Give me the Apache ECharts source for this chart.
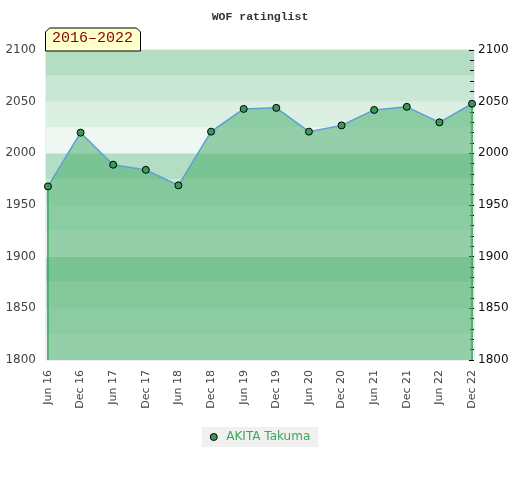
<!DOCTYPE html>
<html>
<head>
<meta charset="utf-8">
<script src="https://cdn.jsdelivr.net/npm/echarts@6/dist/echarts.min.js"></script>
<style>
html,body{margin:0;padding:0;background:#fff;}
#chart{width:520px;height:480px;}
</style>
</head>
<body>
<div id="chart"></div>
<script>
var titleText = 'WOF ratinglist';
var periodLabel = '2016\u20132022';
var seriesName = 'AKITA Takuma';
var categories = ['Jun 16','Dec 16','Jun 17','Dec 17','Jun 18','Dec 18','Jun 19','Dec 19','Jun 20','Dec 20','Jun 21','Dec 21','Jun 22','Dec 22'];
var ratings = [1968, 2020, 1989, 1984, 1969, 2021, 2043, 2044, 2021, 2027, 2042, 2045, 2030, 2048];
var yMin = 1800, yMax = 2100;
var bandColors = ['#eef7f2', '#dcefe3', '#c9e7d4', '#b3dec3'];

var chart = echarts.init(document.getElementById('chart'), null, {renderer: 'canvas'});
var idx = categories.map(function (c, i) { return i; });
var n = categories.length;
var mainData = ratings.map(function (v, i) { return [i, v]; });
var leftEdge = [[0, yMin], [0, ratings[0]]];
var rightEdge = [[n - 1, yMin], [n - 1, ratings[n - 1]]];

var option = {
  animation: false,
  backgroundColor: '#ffffff',
  title: {
    text: titleText,
    left: 'center',
    top: 6,
    textStyle: {fontFamily: 'Liberation Mono', fontSize: 11.5, fontWeight: 'bold', color: '#333'}
  },
  grid: {left: 46, right: 46, top: 50, bottom: 120, show: true, borderColor: '#dddddd', borderWidth: 1, backgroundColor: 'transparent'},
  xAxis: {
    type: 'value',
    min: -0.06,
    max: n - 1 + 0.06,
    splitLine: {show: false},
    axisLine: {show: false},
    axisTick: {show: false},
    axisLabel: {
      customValues: idx,
      rotate: 90,
      color: '#444',
      fontFamily: 'DejaVu Sans',
      fontSize: 11,
      margin: 10,
      formatter: function (v) { return categories[Math.round(v)] || ''; }
    }
  },
  yAxis: [
    {
      type: 'value', position: 'left', min: yMin, max: yMax, interval: 25,
      axisLine: {show: false}, axisTick: {show: false}, splitLine: {show: false},
      splitArea: {show: true, areaStyle: {color: bandColors}},
      axisLabel: {color: '#444', fontFamily: 'DejaVu Sans', fontSize: 12, margin: 10,
        formatter: function (v) { return v % 50 === 0 ? String(v) : ''; }}
    },
    {
      type: 'value', position: 'right', min: yMin, max: yMax, interval: 50,
      axisLine: {show: false}, splitLine: {show: false},
      axisTick: {show: true, inside: true, length: 5, lineStyle: {color: '#000', width: 1}},
      minorTick: {show: true, splitNumber: 5, length: 4, lineStyle: {color: '#000', width: 1}},
      axisLabel: {color: '#111', fontFamily: 'DejaVu Sans', fontSize: 12, margin: 4,
        formatter: function (v) { return String(v); }}
    }
  ],
  legend: {
    data: [{name: seriesName, icon: 'circle'}],
    left: 'center',
    top: 427,
    backgroundColor: '#f0f0f0',
    padding: [4, 8, 4, 8],
    itemWidth: 7,
    itemHeight: 7,
    itemGap: 6,
    itemStyle: {color: '#3a9a5a', borderColor: '#000', borderWidth: 1},
    textStyle: {color: '#3aa75a', fontFamily: 'DejaVu Sans', fontSize: 12, padding: [0, 0, 0, 4]}
  },
  graphic: [
    {
      type: 'polygon',
      shape: {points: [[45.5, 51], [45.5, 32], [49.5, 28], [136.5, 28], [140.5, 32], [140.5, 51]]},
      style: {fill: '#ffffcc', stroke: '#000', lineWidth: 1},
      z: 100
    },
    {
      type: 'text',
      left: 52, top: 31,
      style: {text: periodLabel, fill: '#8b0000', font: '15px "Liberation Mono"'},
      z: 101
    }
  ],
  series: [
    {
      name: 'edgeL', type: 'line', data: leftEdge, showSymbol: false, silent: true,
      lineStyle: {color: '#2ea050', width: 1.5}, z: 3
    },
    {
      name: 'edgeR', type: 'line', data: rightEdge, showSymbol: false, silent: true,
      lineStyle: {color: '#2ea050', width: 1.5}, z: 3
    },
    {
      name: seriesName, type: 'line', data: mainData,
      symbol: 'circle', symbolSize: 7,
      itemStyle: {color: '#3a9a5a', borderColor: '#000', borderWidth: 1},
      lineStyle: {color: '#5b9fd8', width: 1.5},
      areaStyle: {color: 'rgba(74,175,110,0.55)', opacity: 1, origin: 'start'},
      z: 4
    }
  ]
};
chart.setOption(option);
</script>
</body>
</html>
